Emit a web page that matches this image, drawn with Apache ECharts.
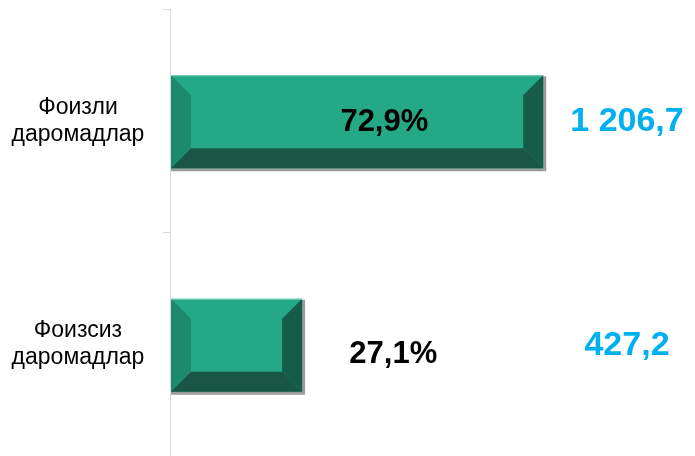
<!DOCTYPE html>
<html>
<head>
<meta charset="utf-8">
<script src="https://cdn.jsdelivr.net/npm/echarts@6/dist/echarts.min.js"></script>
<style>
  html, body { margin: 0; padding: 0; background: #ffffff; }
  #chart { width: 695px; height: 456px; }
</style>
</head>
<body>
<div id="chart"></div>
<script>
const categories = ['Фоизли\nдаромадлар', 'Фоизсиз\nдаромадлар'];
const values = [1206.7, 427.2];
const valueLabels = ['1 206,7', '427,2'];
const shareLabels = ['72,9%', '27,1%'];

// layout constants (data-space x for the share labels, pixel nudges)
const SHARE_AT = [693, 722];
const SHARE_DY = [2, 10];

const chart = echarts.init(document.getElementById('chart'));
const FONT = '"Liberation Sans", Arial, sans-serif';

function renderItem(params, api) {
  const i = api.value(1);
  const v = api.value(0);
  const start = api.coord([0, i]);
  const end = api.coord([v, i]);
  const h = 93;
  const x0 = start[0] + 1;
  const x1 = end[0];
  const y0 = start[1] - h / 2 + 1;
  const y1 = y0 + h;
  const w = x1 - x0;
  const b = 20;
  const children = [
    { type: 'rect', shape: { x: x0, y: y0 + 1, width: w + 3, height: h + 2 }, style: { fill: '#9c9c9c' } },
    { type: 'rect', shape: { x: x0, y: y0, width: w, height: h }, style: { fill: '#24A886' } },
    { type: 'polygon', shape: { points: [[x0, y0], [x0 + b, y0 + b], [x0 + b, y1 - b], [x0, y1]] }, style: { fill: '#1E8A6C' } },
    { type: 'polygon', shape: { points: [[x1, y0], [x1, y1], [x1 - b, y1 - b], [x1 - b, y0 + b]] }, style: { fill: '#155C49' } },
    { type: 'polygon', shape: { points: [[x0, y1], [x1, y1], [x1 - b, y1 - b], [x0 + b, y1 - b]] }, style: { fill: '#1A5645' } },
    { type: 'line', shape: { x1: x0, y1: y0 + 0.5, x2: x1, y2: y0 + 0.5 }, style: { stroke: '#7fd0b8', lineWidth: 1 } }
  ];
  const sp = api.coord([SHARE_AT[i], i]);
  children.push({
    type: 'text',
    style: {
      text: shareLabels[i], x: sp[0], y: sp[1] + SHARE_DY[i],
      align: 'center', verticalAlign: 'middle',
      font: 'bold 31px ' + FONT, fill: '#000000'
    }
  });
  children.push({
    type: 'text',
    style: {
      text: valueLabels[i], x: api.getWidth() - 68, y: start[1] + 1,
      align: 'center', verticalAlign: 'middle',
      font: 'bold 34px ' + FONT, fill: '#00B0F0'
    }
  });
  return { type: 'group', children };
}

chart.setOption({
  animation: false,
  backgroundColor: '#ffffff',
  grid: { left: 170, top: 9, height: 450, width: 433 },
  xAxis: {
    type: 'value', min: 0, max: 1400, show: false,
    splitLine: { show: false }
  },
  yAxis: {
    type: 'category',
    inverse: true,
    data: categories,
    axisLine: { show: true, lineStyle: { color: '#D9D9D9', width: 1 } },
    axisTick: { show: true, length: 7, lineStyle: { color: '#D9D9D9' } },
    axisLabel: {
      align: 'center', margin: 92,
      fontFamily: FONT, fontSize: 23, lineHeight: 27, color: '#000000',
      padding: [4, 0, 0, 0]
    },
    splitLine: { show: false }
  },
  series: [{
    type: 'custom',
    renderItem: renderItem,
    encode: { x: 0, y: 1 },
    data: values.map((v, i) => [v, i])
  }]
});
</script>
</body>
</html>
